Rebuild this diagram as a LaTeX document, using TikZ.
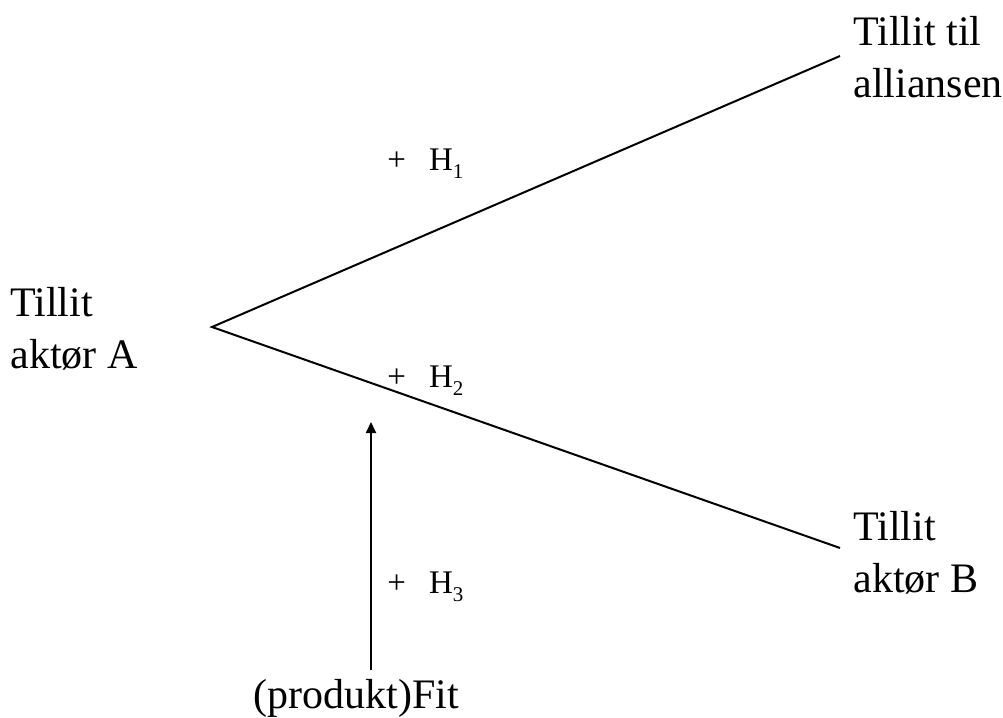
\documentclass[tikz,border=0pt]{standalone}
\usepackage{fontspec}
\setmainfont{Liberation Serif}
\usetikzlibrary{arrows.meta,positioning}

\newcommand{\hyp}[1]{+\hspace{0.7em}H\raisebox{-0.55ex}{\fontsize{10.5pt}{11pt}\selectfont #1}}

\begin{document}
\begin{tikzpicture}[x=0.5pt,y=-0.5pt,
    konstrukt/.style={font=\fontsize{21pt}{26pt}\selectfont, align=left, inner sep=0pt, anchor=base west},
    hypotese/.style={font=\fontsize{16.5pt}{20pt}\selectfont, inner sep=0pt, anchor=base west},
    sti/.style={line width=1pt}]
  \useasboundingbox (0,0) rectangle (1003,718);
  % konstrukter (base = siste linje)
  \node[konstrukt] (aktorA)    at (10,368)  {Tillit\\aktør A};
  \node[konstrukt] (alliansen) at (853,97)  {Tillit til\\alliansen};
  \node[konstrukt] (aktorB)    at (853,592) {Tillit\\aktør B};
  \node[konstrukt] (fit)       at (253,708) {(produkt)Fit};
  % endepunkter for stiene
  \coordinate (apex)   at (212,327);
  \coordinate (oppe)   at (840,56);
  \coordinate (nede)   at (840,548);
  \coordinate (fitbunn) at (371,670);
  \coordinate (fittopp) at (371,422);
  \draw[sti] (oppe) -- (apex) -- (nede);
  \draw[sti, -{Triangle[length=5.5pt,width=5pt]}] (fitbunn) -- (fittopp);
  % hypoteser
  \node[hypotese] (h1) at (387,170) {\hyp{1}};
  \node[hypotese] (h2) at (387,387) {\hyp{2}};
  \node[hypotese] (h3) at (387,593) {\hyp{3}};
\end{tikzpicture}
\end{document}
